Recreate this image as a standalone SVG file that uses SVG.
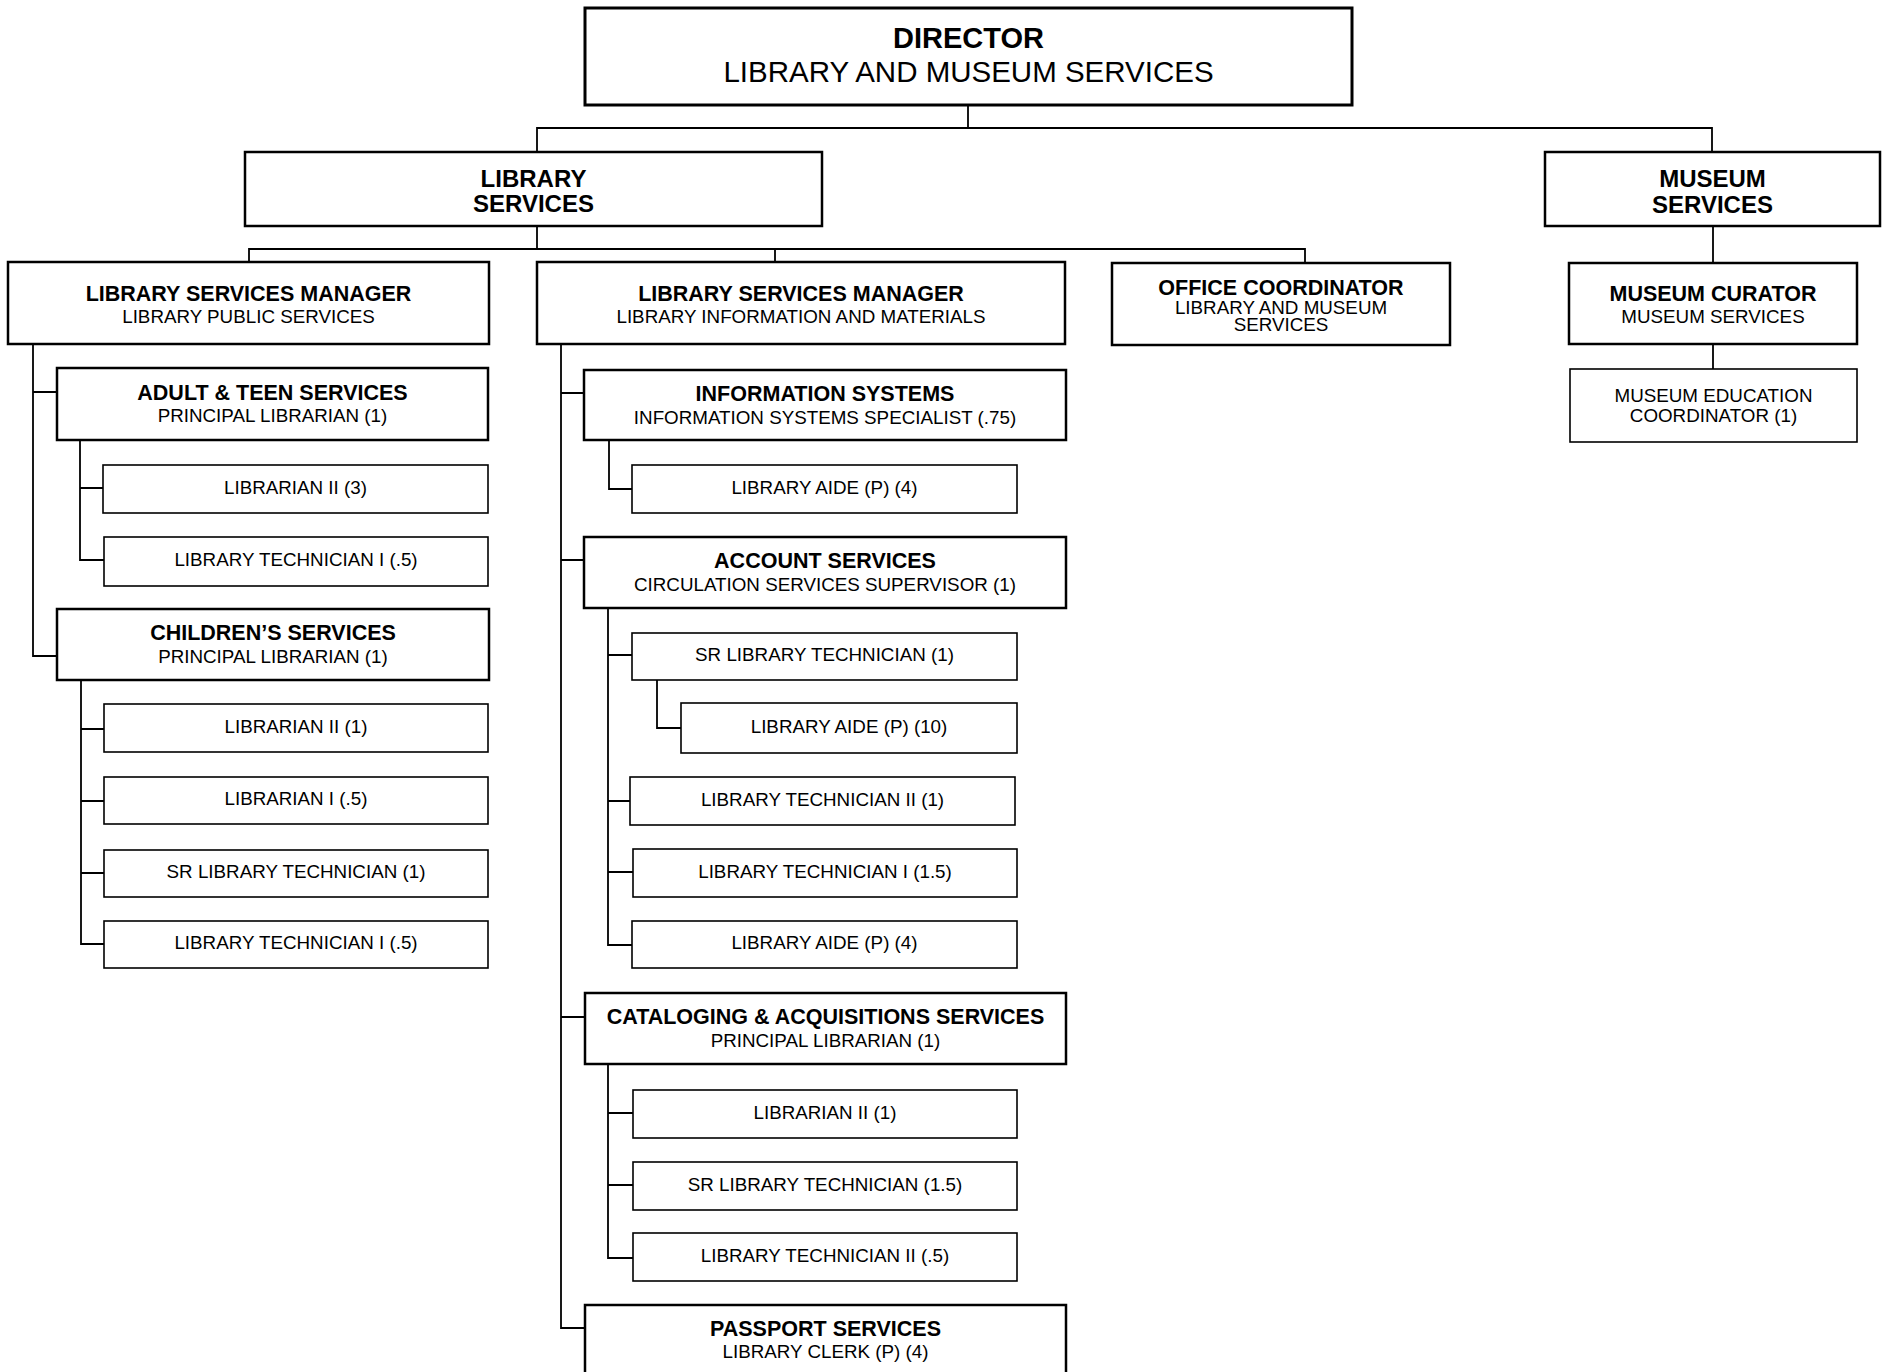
<svg xmlns="http://www.w3.org/2000/svg" width="1885" height="1372" viewBox="0 0 1885 1372">
  <style>
    text { font-family: "Liberation Sans", Arial, sans-serif; fill: #000; text-anchor: middle; }
    .box { fill: #fff; stroke: #000; }
    .top { stroke-width: 3; }
    .head { stroke-width: 2.5; }
    .leaf { stroke-width: 1.6; }
    .b29 { font-size: 29px; font-weight: bold; }
    .r29 { font-size: 29.5px; }
    .b24 { font-size: 24px; font-weight: bold; }
    .b21 { font-size: 21.5px; font-weight: bold; }
    .r18 { font-size: 18.8px; }
    .links path { fill: none; stroke: #000; stroke-width: 1.8; }
  </style>

  <!-- connectors -->
  <g class="links">
    <path d="M968 105 V128 M537 152 V128 H1712 V152"/>
    <path d="M537 226 V249 M249 262 V249 H1305 V263 M775 249 V262"/>
    <path d="M1713 226 V263 M1713 344 V369"/>
    <path d="M33 344 V656 H57 M33 392 H57"/>
    <path d="M80 440 V560 H104 M80 488 H103"/>
    <path d="M81 680 V944 H104 M81 729 H104 M81 801 H104 M81 873 H104"/>
    <path d="M561 344 V1328 H585 M561 393 H584 M561 560 H584 M561 1017 H585"/>
    <path d="M609 440 V489 H632"/>
    <path d="M608 608 V945 H632 M608 655 H632 M608 801 H630 M608 872 H633"/>
    <path d="M657 680 V728 H681"/>
    <path d="M608 1064 V1258 H633 M608 1113 H633 M608 1185 H633"/>
  </g>

  <!-- top level -->
  <g id="director">
    <rect class="box top" x="585" y="8" width="767" height="97"/>
    <text class="b29" x="968.5" y="48">DIRECTOR</text>
    <text class="r29" x="968.5" y="81.5">LIBRARY AND MUSEUM SERVICES</text>
  </g>

  <g id="library-services">
    <rect class="box head" x="245" y="152" width="577" height="74"/>
    <text class="b24" x="533.5" y="186.5">LIBRARY</text>
    <text class="b24" x="533.5" y="212">SERVICES</text>
  </g>

  <g id="museum-services">
    <rect class="box head" x="1545" y="152" width="335" height="74"/>
    <text class="b24" x="1712.5" y="186.5">MUSEUM</text>
    <text class="b24" x="1712.5" y="212.5">SERVICES</text>
  </g>

  <!-- second level -->
  <g id="lsm-public">
    <rect class="box head" x="8" y="262" width="481" height="82"/>
    <text class="b21" x="248.5" y="301">LIBRARY SERVICES MANAGER</text>
    <text class="r18" x="248.5" y="323">LIBRARY PUBLIC SERVICES</text>
  </g>

  <g id="lsm-info">
    <rect class="box head" x="537" y="262" width="528" height="82"/>
    <text class="b21" x="801" y="301">LIBRARY SERVICES MANAGER</text>
    <text class="r18" x="801" y="323">LIBRARY INFORMATION AND MATERIALS</text>
  </g>

  <g id="office-coordinator">
    <rect class="box head" x="1112" y="263" width="338" height="82"/>
    <text class="b21" x="1281" y="294.5">OFFICE COORDINATOR</text>
    <text class="r18" x="1281" y="313.5">LIBRARY AND MUSEUM</text>
    <text class="r18" x="1281" y="330.5">SERVICES</text>
  </g>

  <g id="museum-curator">
    <rect class="box head" x="1569" y="263" width="288" height="81"/>
    <text class="b21" x="1713" y="301">MUSEUM CURATOR</text>
    <text class="r18" x="1713" y="323">MUSEUM SERVICES</text>
  </g>

  <g id="museum-education">
    <rect class="box leaf" x="1570" y="369" width="287" height="73"/>
    <text class="r18" x="1713.5" y="401.5">MUSEUM EDUCATION</text>
    <text class="r18" x="1713.5" y="422">COORDINATOR (1)</text>
  </g>

  <!-- public services branch -->
  <g id="adult-teen">
    <rect class="box head" x="57" y="368" width="431" height="72"/>
    <text class="b21" x="272.5" y="399.5">ADULT &amp; TEEN SERVICES</text>
    <text class="r18" x="272.5" y="422">PRINCIPAL LIBRARIAN (1)</text>
  </g>
  <g id="at-librarian-2">
    <rect class="box leaf" x="103" y="465" width="385" height="48"/>
    <text class="r18" x="295.5" y="493.5">LIBRARIAN II (3)</text>
  </g>
  <g id="at-lib-tech-1">
    <rect class="box leaf" x="104" y="537" width="384" height="49"/>
    <text class="r18" x="296" y="566">LIBRARY TECHNICIAN I (.5)</text>
  </g>

  <g id="childrens">
    <rect class="box head" x="57" y="609" width="432" height="71"/>
    <text class="b21" x="273" y="640">CHILDREN’S SERVICES</text>
    <text class="r18" x="273" y="662.5">PRINCIPAL LIBRARIAN (1)</text>
  </g>
  <g id="ch-librarian-2">
    <rect class="box leaf" x="104" y="704" width="384" height="48"/>
    <text class="r18" x="296" y="732.5">LIBRARIAN II (1)</text>
  </g>
  <g id="ch-librarian-1">
    <rect class="box leaf" x="104" y="777" width="384" height="47"/>
    <text class="r18" x="296" y="805">LIBRARIAN I (.5)</text>
  </g>
  <g id="ch-sr-lib-tech">
    <rect class="box leaf" x="104" y="850" width="384" height="47"/>
    <text class="r18" x="296" y="878">SR LIBRARY TECHNICIAN (1)</text>
  </g>
  <g id="ch-lib-tech-1">
    <rect class="box leaf" x="104" y="921" width="384" height="47"/>
    <text class="r18" x="296" y="949">LIBRARY TECHNICIAN I (.5)</text>
  </g>

  <!-- information and materials branch -->
  <g id="info-systems">
    <rect class="box head" x="584" y="370" width="482" height="70"/>
    <text class="b21" x="825" y="401">INFORMATION SYSTEMS</text>
    <text class="r18" x="825" y="423.5">INFORMATION SYSTEMS SPECIALIST (.75)</text>
  </g>
  <g id="is-aide">
    <rect class="box leaf" x="632" y="465" width="385" height="48"/>
    <text class="r18" x="824.5" y="493.5">LIBRARY AIDE (P) (4)</text>
  </g>

  <g id="account-services">
    <rect class="box head" x="584" y="537" width="482" height="71"/>
    <text class="b21" x="825" y="568">ACCOUNT SERVICES</text>
    <text class="r18" x="825" y="590.5">CIRCULATION SERVICES SUPERVISOR (1)</text>
  </g>
  <g id="acc-sr-lib-tech">
    <rect class="box leaf" x="632" y="633" width="385" height="47"/>
    <text class="r18" x="824.5" y="661">SR LIBRARY TECHNICIAN (1)</text>
  </g>
  <g id="acc-aide-10">
    <rect class="box leaf" x="681" y="703" width="336" height="50"/>
    <text class="r18" x="849" y="732.5">LIBRARY AIDE (P) (10)</text>
  </g>
  <g id="acc-lib-tech-2">
    <rect class="box leaf" x="630" y="777" width="385" height="48"/>
    <text class="r18" x="822.5" y="805.5">LIBRARY TECHNICIAN II (1)</text>
  </g>
  <g id="acc-lib-tech-1">
    <rect class="box leaf" x="633" y="849" width="384" height="48"/>
    <text class="r18" x="825" y="877.5">LIBRARY TECHNICIAN I (1.5)</text>
  </g>
  <g id="acc-aide-4">
    <rect class="box leaf" x="632" y="921" width="385" height="47"/>
    <text class="r18" x="824.5" y="949">LIBRARY AIDE (P) (4)</text>
  </g>

  <g id="cataloging">
    <rect class="box head" x="585" y="993" width="481" height="71"/>
    <text class="b21" x="825.5" y="1024">CATALOGING &amp; ACQUISITIONS SERVICES</text>
    <text class="r18" x="825.5" y="1046.5">PRINCIPAL LIBRARIAN (1)</text>
  </g>
  <g id="cat-librarian-2">
    <rect class="box leaf" x="633" y="1090" width="384" height="48"/>
    <text class="r18" x="825" y="1118.5">LIBRARIAN II (1)</text>
  </g>
  <g id="cat-sr-lib-tech">
    <rect class="box leaf" x="633" y="1162" width="384" height="48"/>
    <text class="r18" x="825" y="1190.5">SR LIBRARY TECHNICIAN (1.5)</text>
  </g>
  <g id="cat-lib-tech-2">
    <rect class="box leaf" x="633" y="1233" width="384" height="48"/>
    <text class="r18" x="825" y="1261.5">LIBRARY TECHNICIAN II (.5)</text>
  </g>

  <g id="passport">
    <rect class="box head" x="585" y="1305" width="481" height="80"/>
    <text class="b21" x="825.5" y="1336">PASSPORT SERVICES</text>
    <text class="r18" x="825.5" y="1358">LIBRARY CLERK (P) (4)</text>
  </g>
</svg>
